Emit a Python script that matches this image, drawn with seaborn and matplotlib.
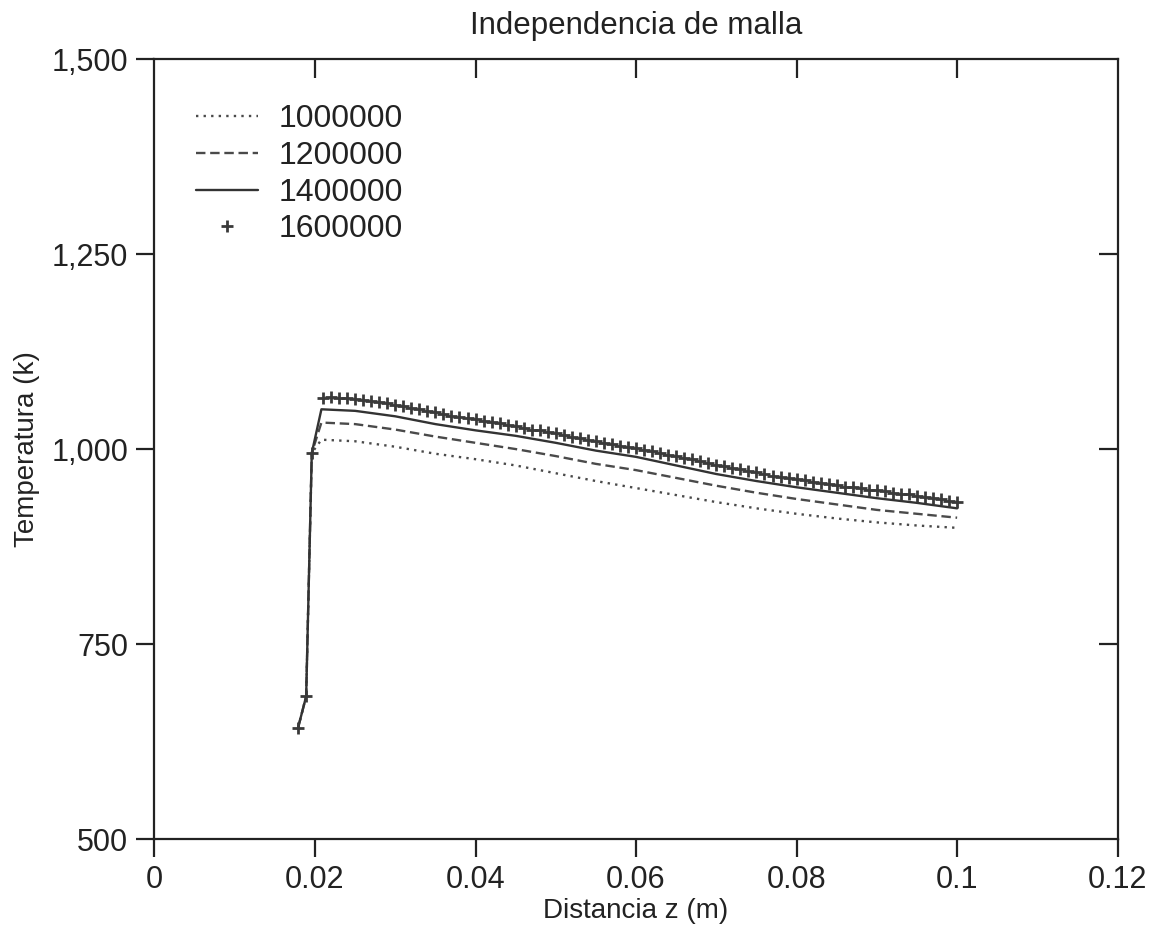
import numpy as np
import pandas as pd
import matplotlib
matplotlib.use("Agg")
import matplotlib.pyplot as plt
import seaborn as sns

# Malla 1600000 (marcadores +), un punto cada ~0.001 m
z_1600 = [0.0179, 0.0189, 0.0196] + [round(0.021 + 0.001 * i, 3) for i in range(80)]
t_1600 = [643, 683, 995,
          1066, 1067, 1066, 1065, 1064, 1063, 1062, 1060, 1059, 1057,
          1055, 1053, 1051, 1049, 1047, 1045, 1043, 1041, 1040, 1038,
          1036, 1035, 1033, 1031, 1029, 1027, 1025, 1024, 1022, 1020,
          1018, 1016, 1014, 1012, 1010, 1008, 1006, 1004, 1003, 1001,
          999, 997, 995, 993, 991, 989, 987, 985, 982, 980,
          978, 976, 974, 972, 970, 968, 966, 964, 963, 961,
          960, 958, 957, 955, 954, 952, 951, 950, 948, 947,
          946, 944, 943, 942, 940, 939, 937, 936, 934, 932]

# Mallas 1000000 / 1200000 / 1400000 (lineas)
z_lines = [0.0179, 0.0189, 0.0196, 0.0208, 0.025, 0.030, 0.035, 0.040, 0.045,
           0.050, 0.055, 0.060, 0.065, 0.070, 0.075, 0.080, 0.085, 0.090,
           0.095, 0.100]
t_1000 = [643, 683, 995, 1012, 1010, 1003, 994, 987, 979,
          969, 959, 950, 941, 932, 924, 917, 911, 906, 902, 899]
t_1200 = [643, 683, 995, 1034, 1032, 1025, 1016, 1008, 1000,
          991, 981, 973, 963, 953, 944, 936, 929, 922, 917, 912]
t_1400 = [643, 683, 995, 1051, 1049, 1042, 1032, 1024, 1017,
          1008, 998, 990, 979, 968, 959, 951, 944, 937, 931, 924]

labels = ["1000000", "1200000", "1400000", "1600000"]

sns.set_style("ticks")
plt.rcParams["font.family"] = ["Liberation Sans", "DejaVu Sans"]
plt.rcParams["text.color"] = "#222222"
plt.rcParams["axes.labelcolor"] = "#222222"
plt.rcParams["xtick.color"] = "#222222"
plt.rcParams["ytick.color"] = "#222222"

fig = plt.figure(figsize=(11.57, 9.38), dpi=100)
ax = fig.add_axes([0.1335, 0.1055, 0.8325, 0.8315])

line_kw = dict(estimator=None, sort=False, ax=ax, linewidth=1.7)
sns.lineplot(x=z_lines, y=t_1000, color="#4a4a4a", linestyle=(0, (1, 2.2)),
             label=labels[0], **line_kw)
sns.lineplot(x=z_lines, y=t_1200, color="#4a4a4a", linestyle=(0, (4, 2)),
             label=labels[1], **line_kw)
sns.lineplot(x=z_lines, y=t_1400, color="#333333", linestyle="-",
             label=labels[2], **line_kw)
sns.lineplot(x=z_1600, y=t_1600, color="#333333", linestyle="none", marker="+",
             markersize=8, markeredgewidth=2.0, markeredgecolor="#3a3a3a",
             label=labels[3], estimator=None, sort=False, ax=ax)

ax.set_xlim(0, 0.12)
ax.set_ylim(500, 1500)
ax.set_xticks([0, 0.02, 0.04, 0.06, 0.08, 0.1, 0.12])
ax.set_xticklabels(["0", "0.02", "0.04", "0.06", "0.08", "0.1", "0.12"])
ax.set_yticks([500, 750, 1000, 1250, 1500])
ax.set_yticklabels(["500", "750", "1,000", "1,250", "1,500"])

for s in ax.spines.values():
    s.set_visible(True)
    s.set_linewidth(1.6)
    s.set_color("#222222")

ax.tick_params(axis="both", which="major", direction="out", length=13,
               width=1.6, labelsize=22, pad=6, top=False, right=False)

# ticks interiores arriba y a la derecha (como menores en las mismas posiciones)
ax.xaxis.remove_overlapping_locs = False
ax.yaxis.remove_overlapping_locs = False
ax.set_xticks([0.02, 0.04, 0.06, 0.08, 0.1], minor=True)
ax.set_yticks([750, 1000, 1250], minor=True)
ax.tick_params(axis="x", which="minor", direction="in", length=14, width=1.6,
               top=True, bottom=False, labeltop=False, labelbottom=False)
ax.tick_params(axis="y", which="minor", direction="in", length=14, width=1.6,
               right=True, left=False, labelright=False, labelleft=False)

ax.set_title("Independencia de malla", fontsize=22.5, pad=18)
ax.set_xlabel("Distancia z (m)", fontsize=20, labelpad=2)
ax.set_ylabel("Temperatura (k)", fontsize=20, labelpad=8)

ax.legend(loc="upper left", bbox_to_anchor=(0.043, 0.942), frameon=False,
          fontsize=23, handlelength=1.95, handletextpad=0.65, labelspacing=0.21,
          borderpad=0, borderaxespad=0)

fig.savefig("out.png", dpi=100)
